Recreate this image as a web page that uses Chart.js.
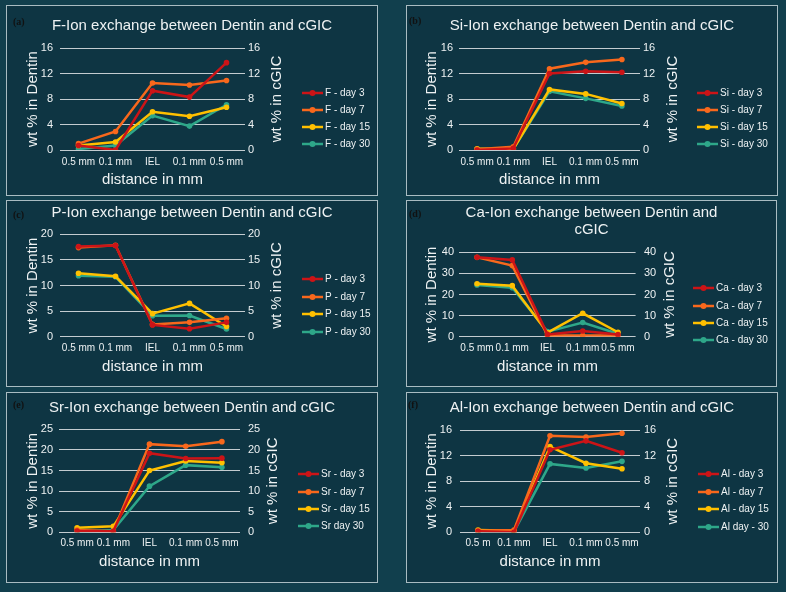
<!DOCTYPE html>
<html><head><meta charset="utf-8">
<script src="https://cdn.jsdelivr.net/npm/chart.js@4.4.1/dist/chart.umd.min.js"></script>
<style>
html,body{margin:0;padding:0;width:786px;height:592px;overflow:hidden;background:#113f4d;}
.panel{position:absolute;background:#0e3543;}
.panel canvas{position:absolute;left:0;top:0;}
.frame{position:absolute;left:0;top:0;right:0;bottom:0;border:1.5px solid #a9bcc2;box-sizing:border-box;pointer-events:none;}
.tag{position:absolute;font:bold 10px "Liberation Serif","DejaVu Serif",serif;color:#111;line-height:12px;}
</style></head><body>
<script>
// ---------- data ----------
const categories   = ['0.5 mm', '0.1 mm', 'IEL', '0.1 mm', '0.5 mm'];
const categoriesAl = ['0.5 m', '0.1 mm', 'IEL', '0.1 mm', '0.5 mm'];

const fNames  = ['F - day 3', 'F - day 7', 'F - day 15', 'F - day 30'];
const fDay3   = [0.7, 0.0, 9.3, 8.3, 13.7];
const fDay7   = [1.0, 2.9, 10.5, 10.2, 10.9];
const fDay15  = [0.7, 1.25, 6.0, 5.3, 6.7];
const fDay30  = [0.15, 0.7, 5.4, 3.75, 7.1];

const siNames = ['Si - day 3', 'Si - day 7', 'Si - day 15', 'Si - day 30'];
const siDay3  = [0.0, 0.25, 12.0, 12.35, 12.2];
const siDay7  = [0.1, 0.5, 12.75, 13.75, 14.2];
const siDay15 = [0.2, 0.15, 9.5, 8.8, 7.3];
const siDay30 = [0.15, 0.15, 9.2, 8.1, 6.9];

const pNames  = ['P - day 3', 'P - day 7', 'P - day 15', 'P - day 30'];
const pDay3   = [17.6, 17.8, 2.3, 1.55, 2.8];
const pDay7   = [17.4, 17.85, 2.4, 2.8, 3.6];
const pDay15  = [12.4, 11.8, 4.5, 6.5, 2.0];
const pDay30  = [11.9, 11.7, 4.1, 4.15, 1.5];

const caNames = ['Ca - day 3', 'Ca - day 7', 'Ca - day 15', 'Ca - day 30'];
const caDay3  = [37.6, 36.4, 1.1, 2.7, 1.0];
const caDay7  = [37.6, 33.7, 0.6, 0.6, 0.6];
const caDay15 = [25.1, 24.2, 1.9, 11.1, 2.1];
const caDay30 = [24.5, 23.2, 2.4, 6.7, 1.4];

const srNames = ['Sr - day 3', 'Sr - day 7', 'Sr - day 15', 'Sr day 30'];
const srDay3  = [0.3, 0.25, 19.2, 17.9, 18.0];
const srDay7  = [0.55, 0.25, 21.4, 20.9, 22.0];
const srDay15 = [1.1, 1.45, 15.0, 17.3, 16.9];
const srDay30 = [0.15, 0.55, 11.2, 16.3, 15.8];

const alNames = ['Al - day 3', 'Al - day 7', 'Al - day 15', 'Al day - 30'];
const alDay3  = [0.15, 0.0, 12.9, 14.3, 12.45];
const alDay7  = [0.25, 0.35, 15.1, 14.9, 15.5];
const alDay15 = [0.35, 0.25, 13.4, 10.8, 9.95];
const alDay30 = [0.1, 0.1, 10.7, 10.05, 11.1];

const titles = [
  'F-Ion exchange between Dentin and cGIC',
  'Si-Ion exchange between Dentin and cGIC',
  'P-Ion exchange between Dentin and cGIC',
  ['Ca-Ion exchange between Dentin and', 'cGIC'],
  'Sr-Ion exchange between Dentin and cGIC',
  'Al-Ion exchange between Dentin and cGIC'
];
const tags = ['(a)', '(b)', '(c)', '(d)', '(e)', '(f)'];
const yMax  = [16, 16, 20, 40, 25, 16];
const yStep = [4, 4, 5, 10, 5, 4];
const yTitleLeft  = 'wt % in Dentin';
const yTitleRight = 'wt % in cGIC';
const xTitle = 'distance in mm';

// ---------- styles & layout (page coordinates) ----------
const seriesColors = ['#cc1417', '#f8681c', '#ffc000', '#2ea789'];
const textColor = '#eef2f3';
const FONT = '"Liberation Sans", Arial, sans-serif';

const layouts = [
  {box:[6,5,372,191],   tag:[13,16],  plot:[60,245,48,150],     titleY:26,  xTickY:162, xTitleY:180, lTickR:53,  lTitleX:33,  rTickL:248, rTitleX:277, legX:302, legY:[93,110,127,144]},
  {box:[406,5,372,191], tag:[409,15], plot:[459,640,48,150],    titleY:26,  xTickY:162, xTitleY:180, lTickR:453, lTitleX:432, rTickL:643, rTitleX:673, legX:697, legY:[93,110,127,144]},
  {box:[6,200,372,187], tag:[13,209], plot:[60,245,234.3,336.7],titleY:213, xTickY:348, xTitleY:367, lTickR:53,  lTitleX:33,  rTickL:248, rTitleX:277, legX:302, legY:[279,297,314,332]},
  {box:[406,200,371,187],tag:[409,208],plot:[459.4,635.6,252.3,336.7],titleY:213.3, xTickY:348, xTitleY:367, lTickR:454, lTitleX:432, rTickL:644, rTitleX:670, legX:693, legY:[288,306,323,340]},
  {box:[6,392,372,191], tag:[13,399], plot:[59,240,429.3,532.3],titleY:408, xTickY:543, xTitleY:562, lTickR:53,  lTitleX:33,  rTickL:248, rTitleX:273, legX:298, legY:[474,492,509,526]},
  {box:[406,392,372,191],tag:[408,399],plot:[460,640,430,532.3],titleY:408, xTickY:543, xTitleY:562, lTickR:452, lTitleX:432, rTickL:644, rTitleX:673, legX:698, legY:[474,492,509,527]}
];

const panelSeries = [
  [fDay3, fDay7, fDay15, fDay30],
  [siDay3, siDay7, siDay15, siDay30],
  [pDay3, pDay7, pDay15, pDay30],
  [caDay3, caDay7, caDay15, caDay30],
  [srDay3, srDay7, srDay15, srDay30],
  [alDay3, alDay7, alDay15, alDay30]
];
const panelNames = [fNames, siNames, pNames, caNames, srNames, alNames];
const panelCats = [categories, categories, categories, categories, categories, categoriesAl];

// legend drawn as line + marker + text beside the plot; right axis title read bottom-to-top
const sideLegend = {
  id: 'sideLegend',
  afterDraw(chart, args, opts) {
    const ctx = chart.ctx;
    ctx.save();
    chart.data.datasets.forEach((ds, i) => {
      const x = opts.x, y = opts.ys[i];
      ctx.strokeStyle = ds.borderColor;
      ctx.lineWidth = 2.5;
      ctx.beginPath(); ctx.moveTo(x, y); ctx.lineTo(x + 21, y); ctx.stroke();
      ctx.fillStyle = ds.borderColor;
      ctx.beginPath(); ctx.arc(x + 10.5, y, 3, 0, Math.PI * 2); ctx.fill();
      ctx.fillStyle = textColor;
      ctx.font = '10px ' + FONT;
      ctx.textBaseline = 'middle';
      ctx.textAlign = 'left';
      ctx.fillText(ds.label, x + 23, y + 0.5);
    });
    // right axis title
    const ca = chart.chartArea;
    ctx.translate(opts.rTitleX, (ca.top + ca.bottom) / 2);
    ctx.rotate(-Math.PI / 2);
    ctx.fillStyle = textColor;
    ctx.font = '15px ' + FONT;
    ctx.textAlign = 'center';
    ctx.textBaseline = 'middle';
    ctx.fillText(opts.rTitle, 0, 0);
    ctx.restore();
  }
};

Chart.defaults.font.family = FONT;
Chart.defaults.color = textColor;

layouts.forEach((L, k) => {
  const [bx, by, bw, bh] = L.box;
  const div = document.createElement('div');
  div.className = 'panel';
  div.style.left = bx + 'px'; div.style.top = by + 'px';
  div.style.width = bw + 'px'; div.style.height = bh + 'px';
  const cv = document.createElement('canvas');
  cv.width = bw; cv.height = bh;
  cv.style.width = bw + 'px'; cv.style.height = bh + 'px';
  div.appendChild(cv);
  const fr = document.createElement('div'); fr.className = 'frame'; div.appendChild(fr);
  document.body.appendChild(div);
  const tg = document.createElement('div');
  tg.className = 'tag'; tg.textContent = tags[k];
  tg.style.left = L.tag[0] + 'px'; tg.style.top = L.tag[1] + 'px';
  document.body.appendChild(tg);

  // canvas coords
  const pl = L.plot[0] - bx, pr = L.plot[1] - bx, pt = L.plot[2] - by, pb = L.plot[3] - by;
  const tLines = Array.isArray(titles[k]) ? titles[k].length : 1;
  const tLH = 15 * 1.1;
  const tPadTop = (L.titleY - by) - tLH / 2;
  const tPadBottom = pt - tPadTop - tLines * tLH;

  const xAxisH = bh - pb;
  const xTickPad = (L.xTickY - by) - pb - 6;
  const xTitlePadB = bh - (L.xTitleY - by) - 9;

  const lTickPad = pl - (L.lTickR - bx);
  const lTitlePad = (L.lTitleX - bx) - 9;
  const rW = bw - pr;
  const rTickPad = (L.rTickL - bx) - pr;

  const datasets = panelSeries[k].map((vals, i) => ({
    label: panelNames[k][i],
    data: vals,
    yAxisID: 'y',
    borderColor: seriesColors[i],
    backgroundColor: seriesColors[i],
    pointBackgroundColor: seriesColors[i],
    pointBorderWidth: 0,
    pointRadius: 2.8,
    borderWidth: 2.5,
    tension: 0
  }));

  const yTicks = {stepSize: yStep[k], color: textColor, font: {size: 11}};

  new Chart(cv, {
    type: 'line',
    data: {labels: panelCats[k], datasets},
    plugins: [sideLegend],
    options: {
      responsive: false,
      animation: false,
      devicePixelRatio: 1,
      layout: {padding: 0},
      plugins: {
        legend: {display: false},
        tooltip: {enabled: false},
        title: {
          display: true, text: titles[k], color: textColor,
          font: {size: 15, weight: 'normal', lineHeight: 1.1},
          padding: {top: tPadTop, bottom: tPadBottom}
        },
        sideLegend: {x: L.legX - bx, ys: L.legY.map(v => v - by), rTitleX: L.rTitleX - bx, rTitle: yTitleRight}
      },
      scales: {
        x: {
          offset: true,
          grid: {display: false, drawTicks: false},
          border: {display: false},
          ticks: {color: textColor, font: {size: 10}, padding: xTickPad, maxRotation: 0, autoSkip: false},
          title: {display: true, text: xTitle, color: textColor, font: {size: 15}, padding: {top: 0, bottom: xTitlePadB}},
          afterFit: s => { s.height = xAxisH; }
        },
        y: {
          position: 'left', min: 0, max: yMax[k],
          grid: {color: '#c3ccd0', lineWidth: 1, drawTicks: false},
          border: {display: false},
          ticks: Object.assign({padding: lTickPad}, yTicks),
          title: {display: true, text: yTitleLeft, color: textColor, font: {size: 15}, padding: {top: lTitlePad, bottom: 0}},
          afterFit: s => { s.width = pl; }
        },
        y2: {
          position: 'right', min: 0, max: yMax[k],
          grid: {display: false, drawTicks: false},
          border: {display: false},
          ticks: Object.assign({padding: rTickPad}, yTicks),
          title: {display: false},
          afterFit: s => { s.width = rW; }
        }
      }
    }
  });
});
</script>
</body></html>
